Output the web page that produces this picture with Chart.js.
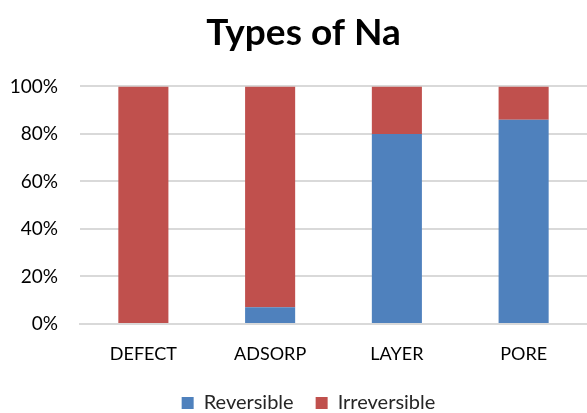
<!DOCTYPE html>
<html>
<head>
<meta charset="utf-8">
<script src="https://cdn.jsdelivr.net/npm/chart.js@4"></script>
<style>
html, body { margin: 0; padding: 0; background: #fff; }
#wrap { width: 587px; height: 413px; }
</style>
</head>
<body>
<div id="wrap"><canvas id="naChart" width="587" height="413"></canvas></div>
<script>
var categories = ["DEFECT", "ADSORP", "LAYER", "PORE"];
var reversible = [0, 7, 80, 86];
var irreversible = [100, 93, 20, 14];
var yTicks = [0, 20, 40, 60, 80, 100];

var fontName = "Lato, 'Open Sans', sans-serif";

// title and legend sit a little right of the canvas centre in the reference
var shiftBoxes = {
    id: "shiftBoxes",
    afterLayout: function (c) {
        if (c.titleBlock) { c.titleBlock.left += 10; c.titleBlock.right += 10; }
        if (c.legend) { c.legend.left += 15; c.legend.right += 15; }
    }
};

var chart = new Chart("naChart", {
    type: "bar",
    data: {
        labels: categories,
        datasets: [{
                label: "Reversible",
                data: reversible,
                backgroundColor: "#4F81BD",
                barPercentage: 0.79,
                categoryPercentage: 0.5
            }, {
                label: "Irreversible",
                data: irreversible,
                backgroundColor: "#C0504D",
                barPercentage: 0.79,
                categoryPercentage: 0.5
            }]
    },
    plugins: [shiftBoxes],
    options: {
        responsive: false,
        animation: false,
        layout: { padding: { left: 0, right: 0, top: 0, bottom: -10 } },
        plugins: {
            title: {
                display: true,
                text: "Types of Na",
                color: "#000",
                font: { family: fontName, size: 37, weight: "bold" },
                padding: { top: 11, bottom: 31 }
            },
            legend: {
                position: "bottom",
                labels: {
                    color: "#262626",
                    font: { family: fontName, size: 20 },
                    boxWidth: 12,
                    boxHeight: 12,
                    padding: 22
                }
            },
            tooltip: { enabled: false }
        },
        scales: {
            x: {
                stacked: true,
                grid: { display: false, drawTicks: false },
                border: { color: "#D9D9D9", width: 2 },
                ticks: {
                    color: "#000",
                    font: { family: fontName, size: 18 },
                    padding: 19
                },
                afterFit: function (axis) { axis.height = 47; }
            },
            y: {
                stacked: true,
                min: 0,
                max: 100,
                afterBuildTicks: function (axis) {
                    axis.ticks = yTicks.map(function (v) { return { value: v }; });
                },
                afterFit: function (axis) { axis.width = 80; },
                grid: { color: "#D9D9D9", lineWidth: 2, drawTicks: false },
                border: { display: false },
                ticks: {
                    color: "#000",
                    font: { family: fontName, size: 19 },
                    padding: 22,
                    callback: function (v) { return v + "%"; }
                }
            }
        }
    }
});
</script>
</body>
</html>
